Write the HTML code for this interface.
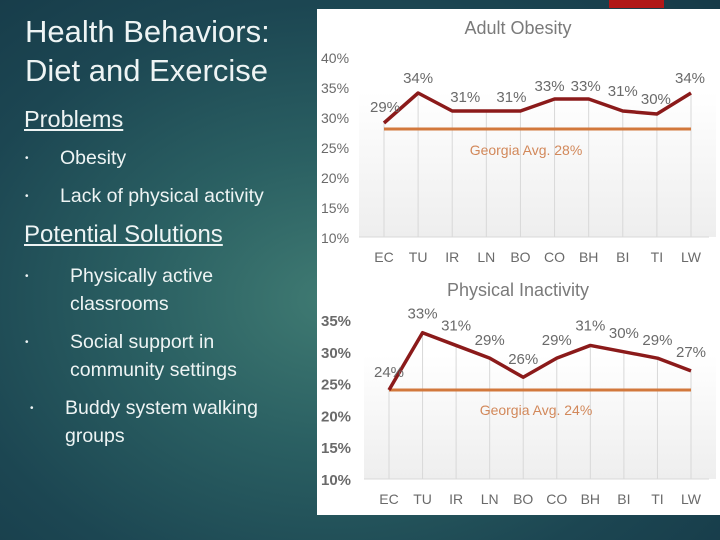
<!DOCTYPE html>
<html><head><meta charset="utf-8"><style>
body{margin:0;width:720px;height:540px;overflow:hidden;font-family:"Liberation Sans",sans-serif;}
#bg{position:absolute;left:0;top:0;width:720px;height:540px;background:radial-gradient(ellipse at 330px 300px,#3f7a72 0%,#2a5f62 35%,#1c4652 70%,#163a48 100%);}
.t{position:absolute;color:#eef4f4;white-space:nowrap;}
</style></head><body>
<div id="bg"></div>
<div class="t" style="left:25px;top:12px;font-size:31px;line-height:39px;">Health Behaviors:<br>Diet and Exercise</div>
<div class="t" style="left:24px;top:106px;font-size:23.5px;text-decoration:underline;">Problems</div>
<div class="t" style="left:25px;top:147px;font-size:19.5px;"><span style="font-size:10px;position:relative;top:-3px">•</span><span style="position:absolute;left:35px">Obesity</span></div>
<div class="t" style="left:25px;top:185px;font-size:19.5px;"><span style="font-size:10px;position:relative;top:-3px">•</span><span style="position:absolute;left:35px">Lack of physical activity</span></div>
<div class="t" style="left:24px;top:221px;font-size:24px;text-decoration:underline;">Potential Solutions</div>
<div class="t" style="left:25px;top:262px;font-size:19.5px;line-height:28px;"><span style="font-size:10px;position:relative;top:-3px">•</span><span style="position:absolute;left:45px">Physically active<br>classrooms</span></div>
<div class="t" style="left:25px;top:328px;font-size:19.5px;line-height:28px;"><span style="font-size:10px;position:relative;top:-3px">•</span><span style="position:absolute;left:45px">Social support in<br>community settings</span></div>
<div class="t" style="left:30px;top:394px;font-size:19.5px;line-height:28px;"><span style="font-size:10px;position:relative;top:-3px">•</span><span style="position:absolute;left:35px">Buddy system walking<br>groups</span></div>
<div style="position:absolute;left:609px;top:0;width:55px;height:8px;background:#b01818"></div>
<svg id="svg" width="720" height="540" style="position:absolute;left:0;top:0">
<defs><linearGradient id="pg" x1="0" y1="0" x2="0" y2="1"><stop offset="0" stop-color="#fff"/><stop offset="1" stop-color="#eeeeee"/></linearGradient></defs>
<rect x="317" y="9" width="403" height="506" fill="#fff"/>
</svg>
<script>
const cats=["EC","TU","IR","LN","BO","CO","BH","BI","TI","LW"];
const obesity=[29,34,31,31,31,33,33,31,30.5,34];
const obesityLabels=["29%","34%","31%","","31%","33%","33%","31%","30%","34%"];
const obesityAvg=28;
const obesityTicks=[10,15,20,25,30,35,40];
const inactivity=[24,33,31,29,26,29,31,30,29,27];
const inactivityLabels=["24%","33%","31%","29%","26%","29%","31%","30%","29%","27%"];
const inactivityAvg=24;
const inactivityTicks=[10,15,20,25,30,35];
const svg=document.getElementById('svg');const NS='http://www.w3.org/2000/svg';
function mk(t,a){const e=document.createElementNS(NS,t);for(const k in a)e.setAttribute(k,a[k]);svg.appendChild(e);return e;}
function chart(c){
 const x=i=>c.x0+(c.x1-c.x0)*i/(cats.length-1);
 const y=v=>c.yb-(v-c.vmin)*c.ppu;
 const top=y(c.ticks[c.ticks.length-1]);
 let e=mk('rect',{x:c.x0-25,y:top+35,width:c.x1-c.x0+50,height:c.yb-top-35,fill:'url(#pg)'});
 
 e=mk('text',{x:518,y:c.titleY,'text-anchor':'middle','font-size':18,fill:'#7a7a7a'});e.textContent=c.title;
 
 c.ticks.forEach(t=>{e=mk('text',{x:c.tx,y:y(t)+6,'font-size':c.tfs,fill:'#6a6a6a','font-weight':c.tbold?'bold':'normal'});e.textContent=t+'%';
  });
 cats.forEach((k,i)=>{e=mk('line',{x1:x(i),x2:x(i),y1:y(c.vals[i]),y2:c.yb,stroke:'#d8d8d8','stroke-width':1});
  
  e=mk('text',{x:x(i),y:c.yb+25,'text-anchor':'middle','font-size':14,fill:'#6a6a6a'});e.textContent=k;
  });
 e=mk('line',{x1:c.x0-25,x2:c.x1+18,y1:c.yb,y2:c.yb,stroke:'#d8d8d8'});
 
 e=mk('line',{x1:x(0),x2:x(cats.length-1),y1:y(c.avg),y2:y(c.avg),stroke:'#d2783c','stroke-width':3});
 
 e=mk('text',{x:c.avgLX,y:y(c.avg)+c.avgDY,'text-anchor':'middle','font-size':14,fill:'#d2885a'});e.textContent='Georgia Avg. '+c.avg+'%';
 
 e=mk('polyline',{points:c.vals.map((v,i)=>x(i)+','+y(v)).join(' '),fill:'none',stroke:'#8b1a1a','stroke-width':3.5,'stroke-linejoin':'round'});
 
 c.vals.forEach((v,i)=>{if(!c.labels[i])return;e=mk('text',{x:x(i)+c.lo[i][0],y:y(v)+c.lo[i][1],'text-anchor':'middle','font-size':15,fill:'#6a6a6a'});e.textContent=c.labels[i];
  });
}
chart({id:'obesity',title:'Adult Obesity',titleY:34,x0:384,x1:691,yb:237,vmin:10,ppu:6,ticks:obesityTicks,tx:321,tfs:14,tbold:false,
 vals:obesity,labels:obesityLabels,avg:obesityAvg,avgLX:526,avgDY:26,
 lo:[[1,-11],[0,-10],[13,-9],[0,0],[-9,-9],[-5,-8],[-3,-8],[0,-15],[-1,-10],[-1,-10]]});
chart({id:'inactivity',title:'Physical Inactivity',titleY:296,x0:389,x1:691,yb:479,vmin:10,ppu:6.36,ticks:inactivityTicks,tx:321,tfs:15,tbold:true,
 vals:inactivity,labels:inactivityLabels,avg:inactivityAvg,avgLX:536,avgDY:25,
 lo:[[0,-13],[0,-14],[0,-15],[0,-13],[0,-13],[0,-13],[0,-15],[0,-14],[0,-13],[0,-14]]});
</script>
</body></html>
